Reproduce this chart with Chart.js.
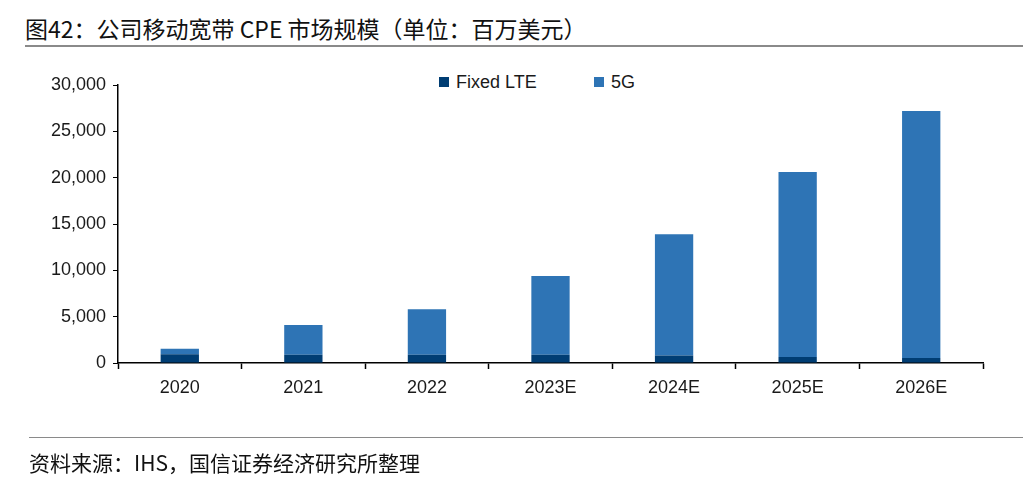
<!DOCTYPE html>
<html>
<head>
<meta charset="utf-8">
<script src="https://cdn.jsdelivr.net/npm/chart.js@4/dist/chart.umd.min.js"></script>
<style>
  html, body { margin: 0; padding: 0; background: #fff; }
  #wrap { position: relative; width: 1023px; height: 485px; overflow: hidden; }
  #chart { position: absolute; left: 0; top: 0; }
  .title {
    position: absolute; left: 25px; top: 11px; line-height: 34px;
    font-family: "Noto Sans CJK SC", sans-serif; font-size: 23px; color: #111;
  }
  .rule-top { position: absolute; left: 25px; right: 0; top: 45px; height: 2px; background: #8a8a8a; }
  .rule-bot { position: absolute; left: 29px; right: 0; top: 437px; height: 1px; background: #8a8a8a; }
  .source {
    position: absolute; left: 29px; top: 446px; line-height: 32px;
    font-family: "Noto Sans CJK SC", sans-serif; font-size: 21px; color: #111;
  }
  .legend {
    position: absolute; top: 71px; line-height: 22px; font-family: "Liberation Sans", Arial, sans-serif;
    font-size: 18px; color: #1a1a1a; display: flex; align-items: center;
  }
  .legend i { display: inline-block; width: 10px; height: 10px; margin-right: 7px; }
</style>
</head>
<body>
<div id="wrap">
  <div class="title">图42：公司移动宽带 CPE 市场规模（单位：百万美元）</div>
  <div class="rule-top"></div>
  <div class="legend" style="left:439px"><i style="background:#003d73"></i>Fixed LTE</div>
  <div class="legend" style="left:594px"><i style="background:#2e74b5"></i>5G</div>
  <canvas id="chart" width="1023" height="485"></canvas>
  <div class="rule-bot"></div>
  <div class="source">资料来源：IHS，国信证券经济研究所整理</div>
</div>
<script>
// ── DATA ──────────────────────────────────────────────
const years    = ['2020', '2021', '2022', '2023E', '2024E', '2025E', '2026E'];
const fixedLte = [950, 900, 900, 900, 800, 650, 550];
const fiveG    = [600, 3200, 4900, 8500, 13100, 19950, 26650];
const yTicks   = [0, 5000, 10000, 15000, 20000, 25000, 30000];

const FONT = { family: '"Liberation Sans", Arial, sans-serif', size: 18 };

new Chart(document.getElementById('chart').getContext('2d'), {
  type: 'bar',
  data: {
    labels: years,
    datasets: [
      { label: 'Fixed LTE', data: fixedLte, backgroundColor: '#003d73', borderWidth: 0 },
      { label: '5G',        data: fiveG,    backgroundColor: '#2e74b5', borderWidth: 0 }
    ]
  },
  options: {
    responsive: false,
    animation: false,
    layout: { padding: { left: 0, right: 40, top: 85, bottom: 0 } },
    datasets: { bar: { categoryPercentage: 1, barPercentage: 0.31 } },
    plugins: { legend: { display: false }, tooltip: { enabled: false } },
    scales: {
      x: {
        stacked: true,
        grid: { offset: true, drawOnChartArea: false, color: '#000', tickLength: 6, tickWidth: 1.5 },
        border: { color: '#000', width: 1.5 },
        ticks: { color: '#1a1a1a', font: FONT, padding: 8 },
        afterFit: s => { s.height = 122; }
      },
      y: {
        stacked: true,
        min: 0, max: 30000,
        afterBuildTicks: s => { s.ticks = yTicks.map(v => ({ value: v })); },
        grid: { drawOnChartArea: false, color: '#000', tickLength: 5 },
        border: { color: '#000', width: 1.5 },
        ticks: {
          color: '#1a1a1a', font: FONT, padding: 7,
          callback: v => v.toLocaleString('en-US')
        },
        afterFit: s => { s.width = 118; }
      }
    }
  }
});
</script>
</body>
</html>
